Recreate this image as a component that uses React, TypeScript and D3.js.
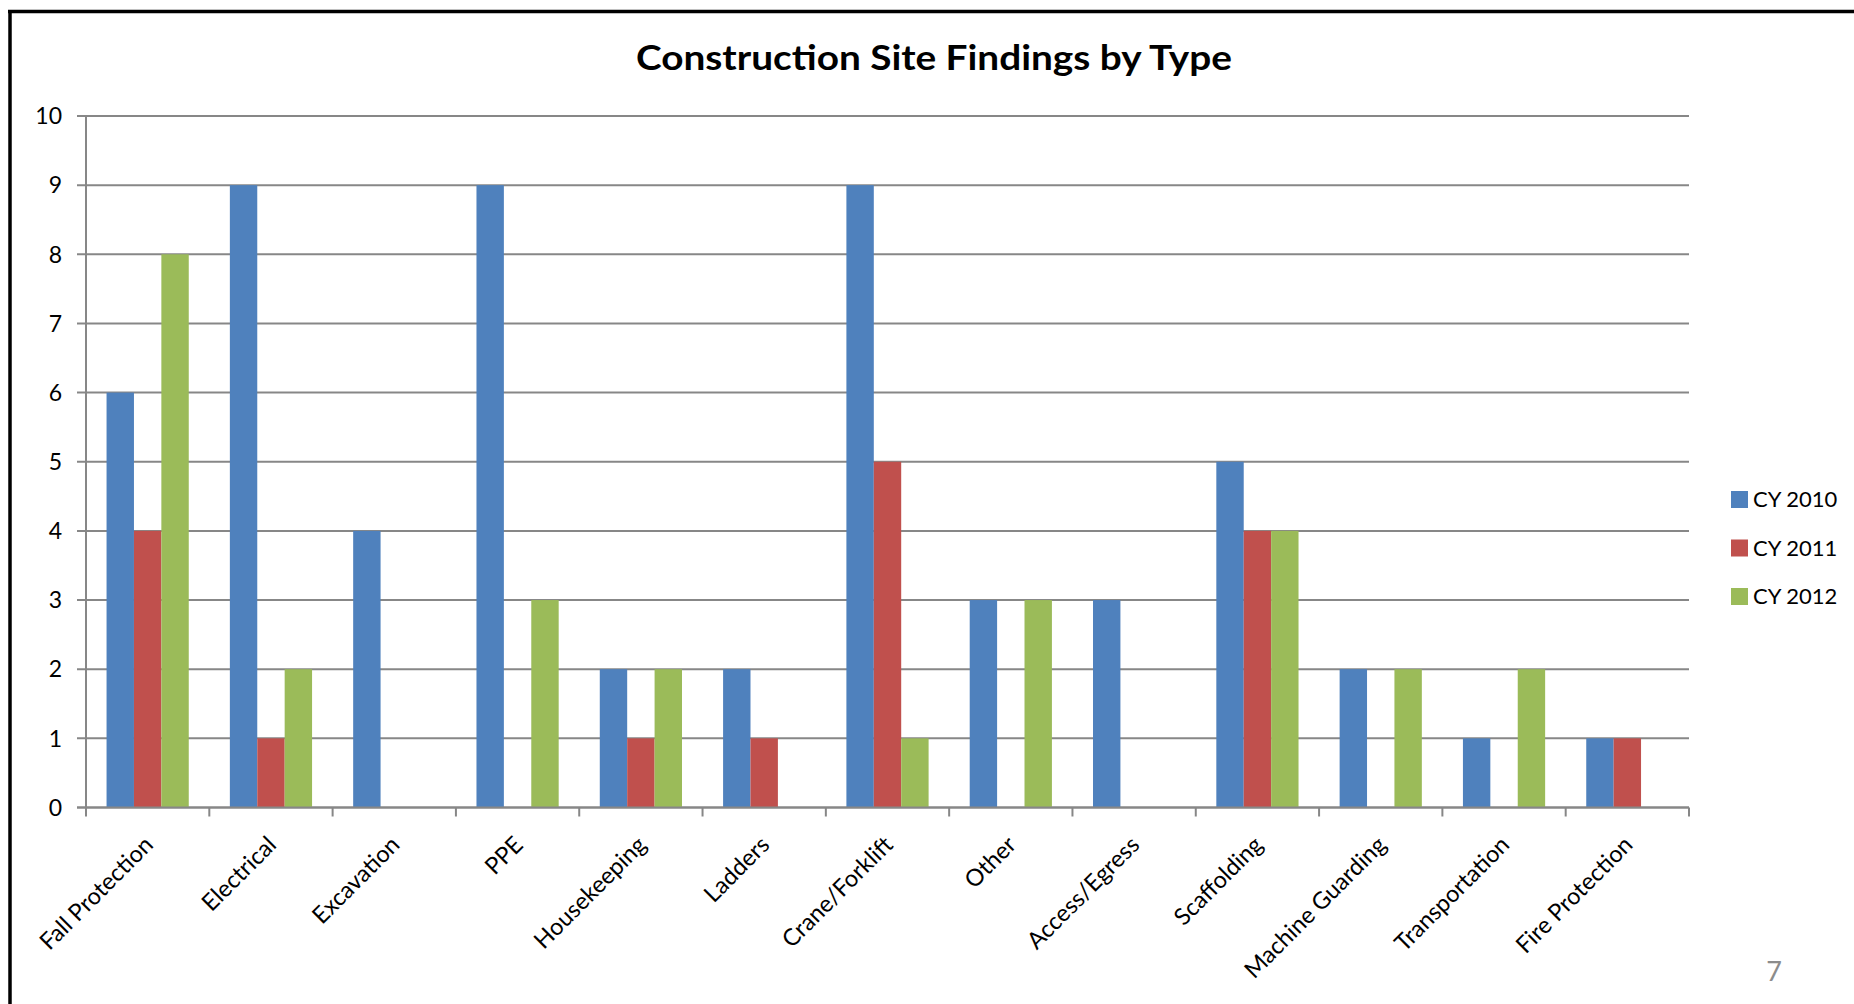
import React from "react";
import * as d3 from "d3";

const categories = [
  "Fall Protection", "Electrical", "Excavation", "PPE", "Housekeeping", "Ladders",
  "Crane/Forklift", "Other", "Access/Egress", "Scaffolding", "Machine Guarding",
  "Transportation", "Fire Protection",
];
const seriesNames = ["CY 2010", "CY 2011", "CY 2012"];
const cy2010 = [6, 9, 4, 9, 2, 2, 9, 3, 3, 5, 2, 1, 1];
const cy2011 = [4, 1, 0, 0, 1, 1, 5, 0, 0, 4, 0, 0, 1];
const cy2012 = [8, 2, 0, 3, 2, 0, 1, 3, 0, 4, 2, 2, 0];
const colors = ["#4F81BD", "#C0504D", "#9BBB59"];
const yTicks = [0, 1, 2, 3, 4, 5, 6, 7, 8, 9, 10];
const title = "Construction Site Findings by Type";

const W = 1854, H = 1004;
const left = 86, right = 1689, top = 116, bottom = 807.5;
const FONT = "Lato, 'Open Sans', sans-serif";
const GRID = "#878787";

export default function App() {
  const series = [cy2010, cy2011, cy2012];
  const x = d3.scaleBand<string>().domain(categories).range([left, right]).paddingInner(0).paddingOuter(0);
  const bw = x.bandwidth();
  const barW = bw / 4.5;
  const y = d3.scaleLinear().domain([0, 10]).range([bottom, top]);
  const boundaries = categories.map((c) => x(c)!).concat([right]);

  return (
    <svg width={W} height={H} style={{ position: "absolute", left: 0, top: 0, background: "#fff" }}>
      <rect x={0} y={0} width={W} height={H} fill="#fff" />
      {/* frame */}
      <line x1={8} x2={W} y1={11.5} y2={11.5} stroke="#000" strokeWidth={3.5} />
      <line x1={10} x2={10} y1={10} y2={H} stroke="#000" strokeWidth={3.5} />

      <text
        x={934}
        y={70}
        textAnchor="middle"
        fontFamily={FONT}
        fontWeight="bold"
        fontSize={35}
        textLength={596}
        lengthAdjust="spacingAndGlyphs"
        fill="#000"
      >
        {title}
      </text>

      {/* gridlines + y ticks */}
      {yTicks.map((t) => (
        <g key={t}>
          <line x1={left - 9} x2={right} y1={y(t)} y2={y(t)} stroke={GRID} strokeWidth={2} />
          <text x={62} y={y(t)} dy="0.36em" textAnchor="end" fontFamily={FONT} fontSize={23} fill="#000">
            {t}
          </text>
        </g>
      ))}
      <line x1={left} x2={left} y1={top} y2={bottom} stroke={GRID} strokeWidth={2} />

      {/* bars */}
      {categories.map((c, i) => (
        <g key={c}>
          {series.map((s, j) => (
            <rect
              key={j}
              x={x(c)! + barW * 0.75 + j * barW}
              y={y(s[i])}
              width={barW}
              height={bottom - y(s[i])}
              fill={colors[j]}
            />
          ))}
        </g>
      ))}

      {/* x axis */}
      <line x1={left - 9} x2={right} y1={bottom} y2={bottom} stroke={GRID} strokeWidth={2} />
      {boundaries.map((b, i) => (
        <line key={i} x1={b} x2={b} y1={bottom} y2={bottom + 9} stroke={GRID} strokeWidth={2} />
      ))}
      {categories.map((c) => {
        const cx = x(c)! + bw / 2 + 1;
        const cy = bottom + 33;
        return (
          <text
            key={c}
            x={cx}
            y={cy}
            dy="0.35em"
            textAnchor="end"
            transform={`rotate(-45 ${cx} ${cy})`}
            fontFamily={FONT}
            fontSize={23.5}
            fill="#000"
          >
            {c}
          </text>
        );
      })}

      {/* legend */}
      {seriesNames.map((n, j) => (
        <g key={n} transform={`translate(1731, ${491 + j * 48.5})`}>
          <rect x={0} y={0} width={17} height={17} fill={colors[j]} />
          <text x={22} y={8.5} dy="0.36em" fontFamily={FONT} fontSize={22} fill="#000">
            {n}
          </text>
        </g>
      ))}

      <text x={1774} y={981} textAnchor="middle" fontFamily={FONT} fontSize={27} fill="#8c8c8c">
        7
      </text>
    </svg>
  );
}
